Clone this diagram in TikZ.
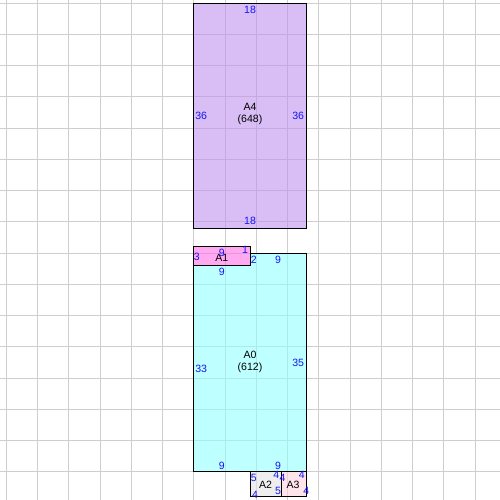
\documentclass[tikz,border=0pt]{standalone}
\usepackage{fontspec}
\setmainfont{Liberation Sans}
\usepackage{xcolor}
\usepackage{tikz}
\definecolor{fillAfour}{RGB}{190,147,238}
\definecolor{fillAzero}{RGB}{147,255,255}
\definecolor{fillAone}{RGB}{255,113,230}
\definecolor{fillAtwo}{RGB}{227,227,227}
\definecolor{fillAthree}{RGB}{255,210,223}
\definecolor{gridgray}{RGB}{206,206,206}
\definecolor{lblblue}{RGB}{20,20,245}

\begin{document}
\begin{tikzpicture}[x=0.25cm, y=-0.25cm,
  gridline/.style={gridgray, line width=0.9pt},
  piece/.style={draw=black, line width=0.9pt, fill opacity=0.6},
  edgelbl/.style={text=lblblue, font=\fontsize{12}{14}\selectfont, inner sep=0pt},
  namelbl/.style={text=black, font=\fontsize{12}{14}\selectfont, align=center, inner sep=0pt}]
  \useasboundingbox (0,0) rectangle (80,80);
  \fill[white] (0,0) rectangle (80,80);
  \draw[gridline] (1,0) -- (1,80);
  \draw[gridline] (6,0) -- (6,80);
  \draw[gridline] (11,0) -- (11,80);
  \draw[gridline] (16,0) -- (16,80);
  \draw[gridline] (21,0) -- (21,80);
  \draw[gridline] (26,0) -- (26,80);
  \draw[gridline] (31,0) -- (31,80);
  \draw[gridline] (36,0) -- (36,80);
  \draw[gridline] (41,0) -- (41,80);
  \draw[gridline] (46,0) -- (46,80);
  \draw[gridline] (51,0) -- (51,80);
  \draw[gridline] (56,0) -- (56,80);
  \draw[gridline] (61,0) -- (61,80);
  \draw[gridline] (66,0) -- (66,80);
  \draw[gridline] (71,0) -- (71,80);
  \draw[gridline] (76,0) -- (76,80);
  \draw[gridline] (0,0.5) -- (80,0.5);
  \draw[gridline] (0,5.5) -- (80,5.5);
  \draw[gridline] (0,10.5) -- (80,10.5);
  \draw[gridline] (0,15.5) -- (80,15.5);
  \draw[gridline] (0,20.5) -- (80,20.5);
  \draw[gridline] (0,25.5) -- (80,25.5);
  \draw[gridline] (0,30.5) -- (80,30.5);
  \draw[gridline] (0,35.5) -- (80,35.5);
  \draw[gridline] (0,40.5) -- (80,40.5);
  \draw[gridline] (0,45.5) -- (80,45.5);
  \draw[gridline] (0,50.5) -- (80,50.5);
  \draw[gridline] (0,55.5) -- (80,55.5);
  \draw[gridline] (0,60.5) -- (80,60.5);
  \draw[gridline] (0,65.5) -- (80,65.5);
  \draw[gridline] (0,70.5) -- (80,70.5);
  \draw[gridline] (0,75.5) -- (80,75.5);
  % pieces
  \draw[piece, fill=fillAfour] (31,0.5) rectangle (49,36.5);
  \draw[piece, fill=fillAone] (31,39.5) rectangle (40,42.5);
  \draw[piece, fill=fillAzero] (31,42.5) -- (40,42.5) -- (40,40.5) -- (49,40.5) -- (49,75.5) -- (31,75.5) -- cycle;
  \draw[piece, fill=fillAtwo] (40,75.5) rectangle (45,79.5);
  \draw[piece, fill=fillAthree] (45,75.5) rectangle (49,79.5);
  % A4
  \node[namelbl] (nameAfour) at (40,18.25) {A4\\(648)};
  \node[edgelbl] (afourtop) at (40,1.6) {18};
  \node[edgelbl] (afourbottom) at (40,35.4) {18};
  \node[edgelbl] (afourleft) at (32.2,18.6) {36};
  \node[edgelbl] (afourright) at (47.7,18.6) {36};
  % A0
  \node[namelbl] (nameAzero) at (40,57.85) {A0\\(612)};
  \node[edgelbl] (azeroleft) at (32.2,59) {33};
  \node[edgelbl] (azeroright) at (47.7,58.1) {35};
  \node[edgelbl] (azerotopa) at (35.5,43.5) {9};
  \node[edgelbl] (azerostep) at (40.6,41.6) {2};
  \node[edgelbl] (azerotopb) at (44.5,41.6) {9};
  \node[edgelbl] (azerobota) at (35.5,74.6) {9};
  \node[edgelbl] (azerobotb) at (44.5,74.6) {9};
  % A1
  \node[namelbl] (nameAone) at (35.5,41.2) {A1};
  \node[edgelbl] (aoneleft) at (31.5,41.1) {3};
  \node[edgelbl] (aonetop) at (35.5,40.5) {9};
  \node[edgelbl] (aoneright) at (39.2,39.9) {1};
  % A2
  \node[namelbl] (nameAtwo) at (42.5,77.6) {A2};
  \node[edgelbl] (atwoleft) at (40.6,76.5) {5};
  \node[edgelbl] (atwotop) at (44.2,75.9) {4};
  \node[edgelbl] (atwobottom) at (40.8,79.2) {4};
  \node[edgelbl] (atworight) at (44.5,78.6) {5};
  % A3
  \node[namelbl] (nameAthree) at (46.9,77.6) {A3};
  \node[edgelbl] (athreeleft) at (45.2,76.5) {4};
  \node[edgelbl] (athreetop) at (48.3,75.9) {4};
  \node[edgelbl] (athreeright) at (49,78.6) {4};
\end{tikzpicture}
\end{document}
